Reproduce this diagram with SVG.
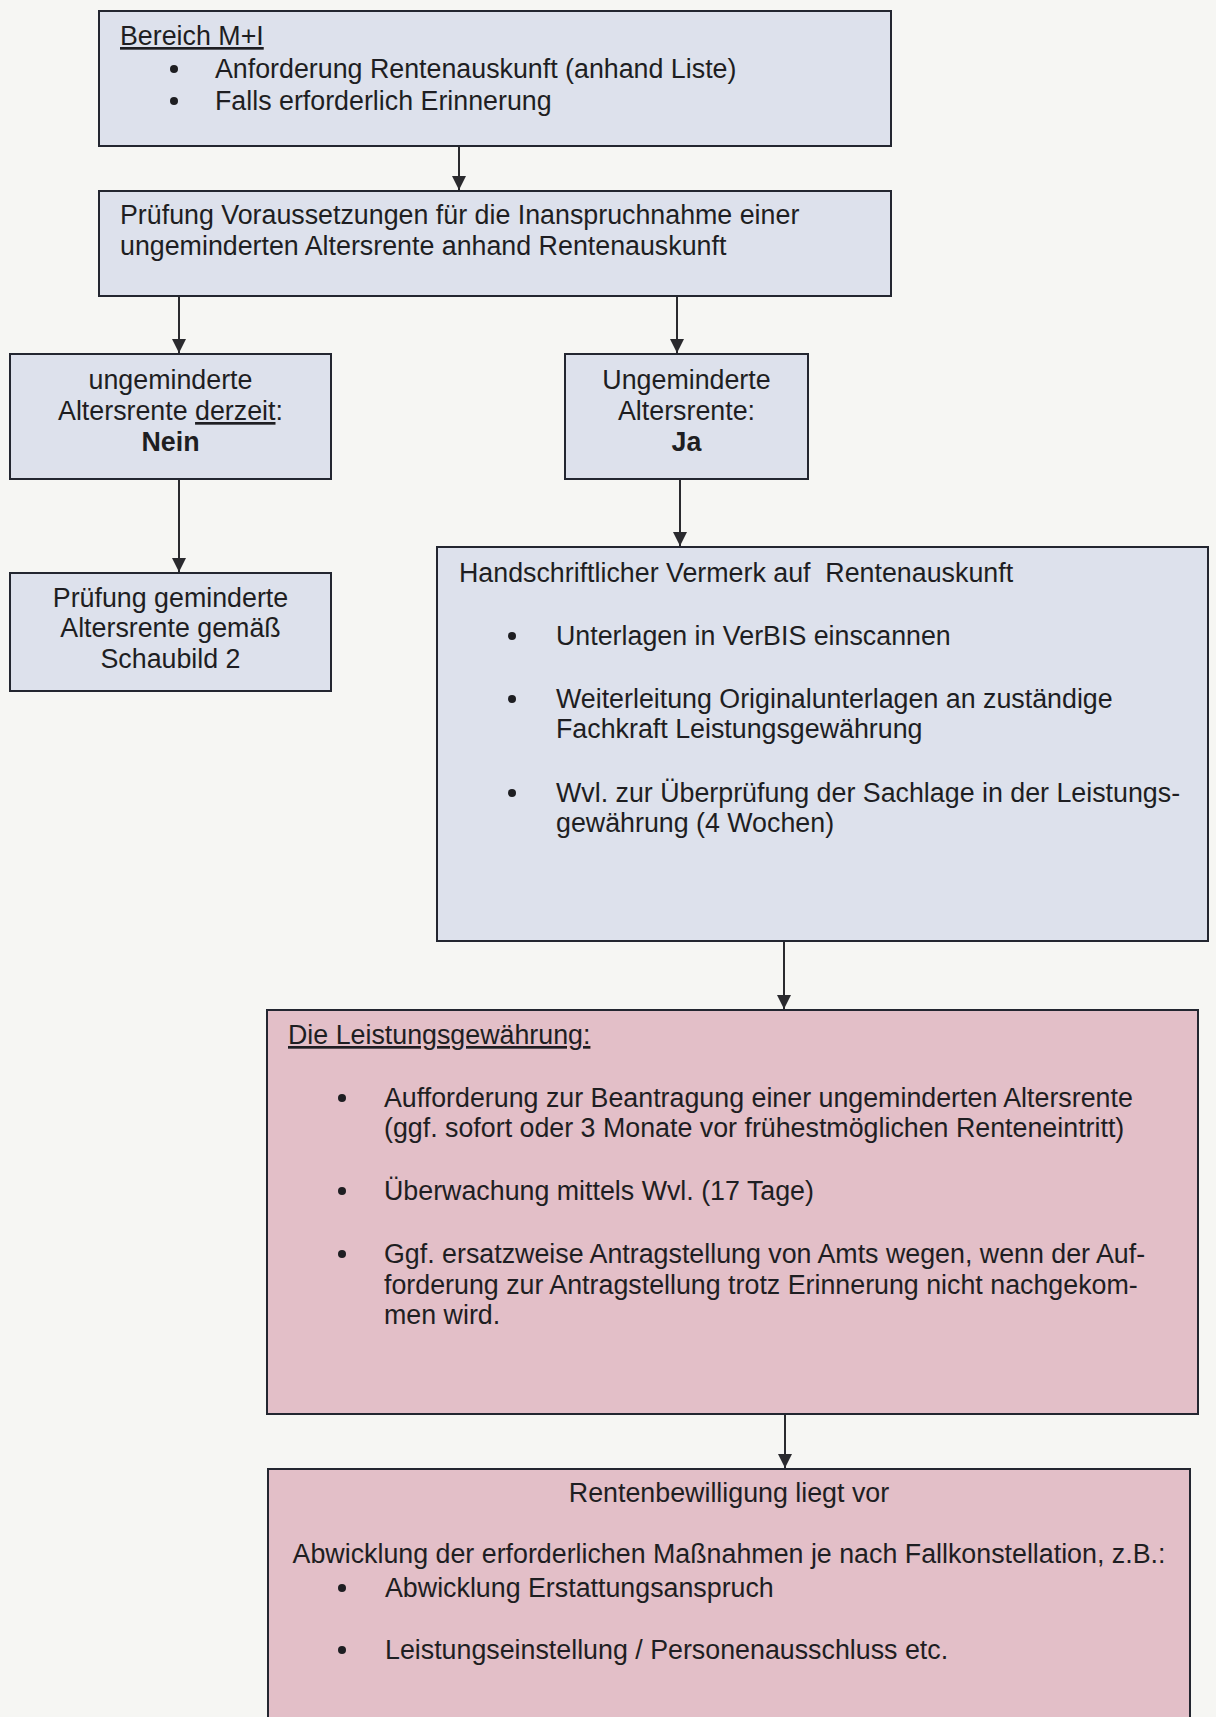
<svg xmlns="http://www.w3.org/2000/svg" width="1216" height="1717" viewBox="0 0 1216 1717">
<style>
.blue{fill:#dde1ec;stroke:#232630;stroke-width:2}
.pink{fill:#e3bfc8;stroke:#232630;stroke-width:2}
text{font-family:"Liberation Sans",Arial,sans-serif;font-size:26.8px;fill:#1e1e22}
.c{text-anchor:middle}
.b{font-weight:bold}
.u{text-decoration:underline}
.line{stroke:#2a2a2e;stroke-width:2;fill:none}
</style>
<defs>
<marker id="arr" markerWidth="14" markerHeight="18" refX="14" refY="8" orient="auto" markerUnits="userSpaceOnUse">
<path d="M0,1 L14,8 L0,15 Z" fill="#2a2a2e"/>
</marker>
</defs>
<rect width="1216" height="1717" fill="#f6f6f3"/>
<g id="connectors">
<line class="line" x1="459" y1="146" x2="459" y2="190" marker-end="url(#arr)"/>
<line class="line" x1="179" y1="296" x2="179" y2="353" marker-end="url(#arr)"/>
<line class="line" x1="677" y1="296" x2="677" y2="353" marker-end="url(#arr)"/>
<line class="line" x1="179" y1="479" x2="179" y2="572" marker-end="url(#arr)"/>
<line class="line" x1="680" y1="479" x2="680" y2="546" marker-end="url(#arr)"/>
<line class="line" x1="784" y1="941" x2="784" y2="1009" marker-end="url(#arr)"/>
<line class="line" x1="785" y1="1414" x2="785" y2="1468" marker-end="url(#arr)"/>
</g>
<g id="node-bereich">
<rect class="blue" x="99" y="11" width="792" height="135"/>
<text x="120" y="45" class="u">Bereich M+I</text>
<circle cx="174" cy="69" r="4" fill="#1e1e22"/>
<text x="215" y="78">Anforderung Rentenauskunft (anhand Liste)</text>
<circle cx="174" cy="101" r="4" fill="#1e1e22"/>
<text x="215" y="110">Falls erforderlich Erinnerung</text>
</g>
<g id="node-pruefung">
<rect class="blue" x="99" y="191" width="792" height="105"/>
<text x="120" y="224">Prüfung Voraussetzungen für die Inanspruchnahme einer</text>
<text x="120" y="255">ungeminderten Altersrente anhand Rentenauskunft</text>
</g>
<g id="node-nein">
<rect class="blue" x="10" y="354" width="321" height="125"/>
<text x="170.5" y="389" class="c">ungeminderte</text>
<text x="170.5" y="420" class="c">Altersrente <tspan class="u">derzeit</tspan>:</text>
<text x="170.5" y="451" class="c b">Nein</text>
</g>
<g id="node-ja">
<rect class="blue" x="565" y="354" width="243" height="125"/>
<text x="686.5" y="389" class="c">Ungeminderte</text>
<text x="686.5" y="420" class="c">Altersrente:</text>
<text x="686.5" y="451" class="c b">Ja</text>
</g>
<g id="node-gemindert">
<rect class="blue" x="10" y="573" width="321" height="118"/>
<text x="170.5" y="607" class="c">Prüfung geminderte</text>
<text x="170.5" y="637" class="c">Altersrente gemäß</text>
<text x="170.5" y="668" class="c">Schaubild 2</text>
</g>
<g id="node-vermerk">
<rect class="blue" x="437" y="547" width="771" height="394"/>
<text x="459" y="582" style="white-space:pre">Handschriftlicher Vermerk auf  Rentenauskunft</text>
<circle cx="512" cy="636" r="4" fill="#1e1e22"/>
<text x="556" y="645">Unterlagen in VerBIS einscannen</text>
<circle cx="512" cy="699" r="4" fill="#1e1e22"/>
<text x="556" y="708">Weiterleitung Originalunterlagen an zuständige</text>
<text x="556" y="738">Fachkraft Leistungsgewährung</text>
<circle cx="512" cy="793" r="4" fill="#1e1e22"/>
<text x="556" y="802">Wvl. zur Überprüfung der Sachlage in der Leistungs-</text>
<text x="556" y="832">gewährung (4 Wochen)</text>
</g>
<g id="node-leistung">
<rect class="pink" x="267" y="1010" width="931" height="404"/>
<text x="288" y="1044" class="u">Die Leistungsgewährung:</text>
<circle cx="342" cy="1098" r="4" fill="#1e1e22"/>
<text x="384" y="1107">Aufforderung zur Beantragung einer ungeminderten Altersrente</text>
<text x="384" y="1137">(ggf. sofort oder 3 Monate vor frühestmöglichen Renteneintritt)</text>
<circle cx="342" cy="1191" r="4" fill="#1e1e22"/>
<text x="384" y="1200">Überwachung mittels Wvl. (17 Tage)</text>
<circle cx="342" cy="1254" r="4" fill="#1e1e22"/>
<text x="384" y="1263">Ggf. ersatzweise Antragstellung von Amts wegen, wenn der Auf-</text>
<text x="384" y="1294">forderung zur Antragstellung trotz Erinnerung nicht nachgekom-</text>
<text x="384" y="1324">men wird.</text>
</g>
<g id="node-bewilligung">
<rect class="pink" x="268" y="1469" width="922" height="260"/>
<text x="729" y="1502" class="c">Rentenbewilligung liegt vor</text>
<text x="729" y="1563" class="c">Abwicklung der erforderlichen Maßnahmen je nach Fallkonstellation, z.B.:</text>
<circle cx="342" cy="1588" r="4" fill="#1e1e22"/>
<text x="385" y="1597">Abwicklung Erstattungsanspruch</text>
<circle cx="342" cy="1650" r="4" fill="#1e1e22"/>
<text x="385" y="1659">Leistungseinstellung / Personenausschluss etc.</text>
</g>
</svg>
